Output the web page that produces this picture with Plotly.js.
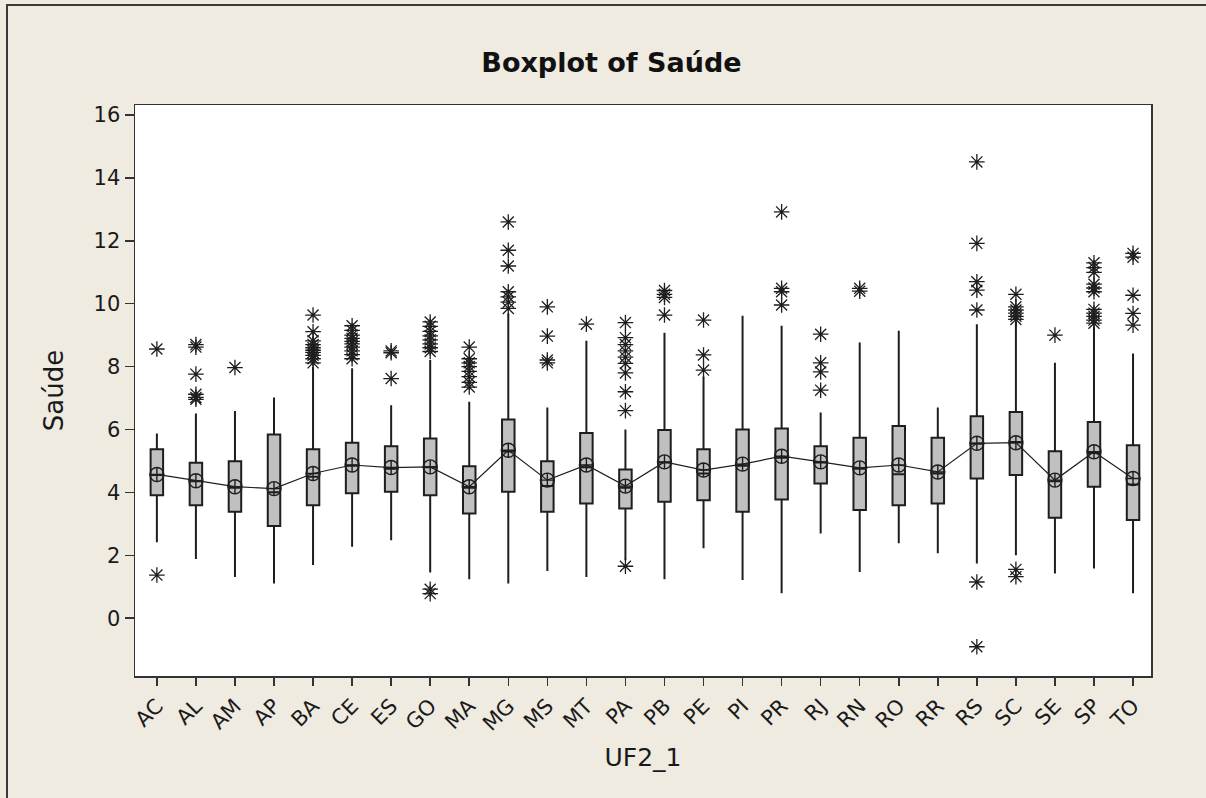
<!DOCTYPE html>
<html>
<head>
<meta charset="utf-8">
<script src="https://cdn.plot.ly/plotly-3.0.1.min.js"></script>
<style>
  html, body { margin: 0; padding: 0; background: #efebe1; }
  #chart { position: absolute; left: 0; top: 0; width: 1206px; height: 798px; }
  #frame { position: absolute; left: 6px; top: 4px; width: 1220px; height: 820px;
           border-left: 2px solid #3a3a3a; border-top: 2px solid #3a3a3a; pointer-events: none; }
</style>
</head>
<body>
<div id="chart"></div>
<div id="frame"></div>
<script>
// States (UF) on the x axis
const states = ['AC','AL','AM','AP','BA','CE','ES','GO','MA','MG','MS','MT','PA',
                'PB','PE','PI','PR','RJ','RN','RO','RR','RS','SC','SE','SP','TO'];

// Box statistics per state
const q1 = [3.91, 3.59, 3.38, 2.93, 3.59, 3.97, 4.02, 3.91, 3.33, 4.02, 3.38, 3.65, 3.49,
            3.70, 3.75, 3.38, 3.77, 4.28, 3.44, 3.59, 3.65, 4.44, 4.55, 3.19, 4.18, 3.12];
const medians = [4.55, 4.35, 4.15, 4.00, 4.50, 4.85, 4.75, 4.80, 4.15, 5.30, 4.20, 4.80, 4.15,
                 4.95, 4.60, 4.85, 5.10, 4.95, 4.75, 4.58, 4.60, 5.55, 5.60, 4.35, 5.25, 4.25];
const q3 = [5.37, 4.94, 4.99, 5.84, 5.37, 5.58, 5.47, 5.71, 4.83, 6.32, 4.99, 5.89, 4.73,
            5.98, 5.37, 6.00, 6.03, 5.47, 5.74, 6.11, 5.74, 6.42, 6.56, 5.31, 6.24, 5.50];
const whiskerLow = [2.41, 1.88, 1.31, 1.10, 1.69, 2.27, 2.48, 1.45, 1.24, 1.10, 1.50, 1.31, 1.84,
                    1.24, 2.22, 1.21, 0.79, 2.69, 1.47, 2.38, 2.06, 1.74, 2.00, 1.42, 1.58, 0.79];
const whiskerHigh = [5.87, 6.51, 6.59, 7.02, 7.99, 7.95, 6.77, 8.21, 6.88, 9.69, 6.70, 8.82, 6.00,
                     9.08, 7.68, 9.62, 9.30, 6.54, 8.77, 9.14, 6.70, 9.35, 9.42, 8.12, 9.27, 8.42];
const means = [4.57, 4.37, 4.18, 4.12, 4.60, 4.87, 4.79, 4.81, 4.18, 5.34, 4.39, 4.87, 4.20,
               4.97, 4.71, 4.90, 5.15, 4.97, 4.78, 4.87, 4.65, 5.56, 5.58, 4.39, 5.29, 4.44];

// Outlying observations per state
const outliers = [
  [8.56, 1.37],                                                    // AC
  [8.70, 8.62, 7.76, 7.12, 7.02, 6.96],                            // AL
  [7.97],                                                          // AM
  [],                                                              // AP
  [9.64, 9.11, 8.82, 8.70, 8.60, 8.52, 8.45, 8.36, 8.25, 8.12],    // BA
  [9.30, 9.15, 9.00, 8.90, 8.80, 8.72, 8.62, 8.50, 8.38, 8.25],    // CE
  [8.50, 8.44, 7.62],                                              // ES
  [9.42, 9.28, 9.12, 8.98, 8.85, 8.72, 8.60, 8.48, 0.92, 0.78],    // GO
  [8.62, 8.25, 8.12, 8.00, 7.85, 7.68, 7.50, 7.35],                // MA
  [12.60, 11.70, 11.20, 10.38, 10.22, 10.05, 9.85],                // MG
  [9.90, 8.97, 8.21, 8.12],                                        // MS
  [9.35],                                                          // MT
  [9.40, 8.92, 8.70, 8.50, 8.30, 8.10, 7.80, 7.20, 6.60, 1.65],    // PA
  [10.42, 10.30, 10.20, 9.64],                                     // PB
  [9.48, 8.37, 7.89],                                              // PE
  [],                                                              // PI
  [12.92, 10.49, 10.38, 9.96],                                     // PR
  [9.03, 8.12, 7.83, 7.25],                                        // RJ
  [10.49, 10.40],                                                  // RN
  [],                                                              // RO
  [],                                                              // RR
  [14.51, 11.92, 10.70, 10.43, 9.80, 1.15, -0.91],                 // RS
  [10.30, 9.90, 9.80, 9.70, 9.60, 9.50, 1.55, 1.32],               // SC
  [9.00],                                                          // SE
  [11.30, 11.15, 11.00, 10.62, 10.50, 10.38, 9.82, 9.70, 9.60, 9.48, 9.38], // SP
  [11.60, 11.48, 10.27, 9.69, 9.32]                                // TO
];

const outX = [], outY = [];
outliers.forEach((vals, i) => vals.forEach(v => { outX.push(states[i]); outY.push(v); }));

const ink = '#1e1e1e';

const boxes = {
  type: 'box',
  x: states,
  q1: q1,
  median: medians,
  q3: q3,
  lowerfence: whiskerLow,
  upperfence: whiskerHigh,
  boxpoints: false,
  width: 0.32,
  whiskerwidth: 0,
  fillcolor: '#c0c0c0',
  line: { color: ink, width: 2 },
  hoverinfo: 'skip',
  showlegend: false
};

const meanLine = {
  type: 'scatter',
  mode: 'lines+markers',
  x: states,
  y: means,
  line: { color: ink, width: 1.2 },
  marker: { symbol: 'circle-cross-open', size: 14, color: ink, line: { width: 1.4, color: ink } },
  showlegend: false
};

const outlierPts = {
  type: 'scatter',
  mode: 'markers',
  x: outX,
  y: outY,
  marker: { symbol: 'asterisk-open', size: 13, color: ink, line: { width: 1.3, color: ink } },
  showlegend: false
};

const tickFont = { family: 'DejaVu Sans, sans-serif', size: 21, color: '#1a1a1a' };

const layout = {
  width: 1206,
  height: 798,
  paper_bgcolor: '#efebe1',
  plot_bgcolor: '#ffffff',
  margin: { l: 135, r: 55, t: 105, b: 122 },
  title: {
    text: '<b>Boxplot of Saúde</b>',
    font: { family: 'DejaVu Sans, sans-serif', size: 27, color: '#111' },
    x: 0.507, xref: 'container', xanchor: 'center',
    y: 0.921, yref: 'container', yanchor: 'middle'
  },
  xaxis: {
    type: 'category',
    range: [-0.56, 25.46],
    tickangle: -45,
    ticks: 'outside',
    ticklen: 8,
    tickwidth: 1.5,
    tickcolor: '#333',
    tickfont: tickFont,
    showline: true,
    mirror: true,
    linecolor: '#333',
    linewidth: 1.5,
    showgrid: false,
    zeroline: false,
    title: { text: 'UF2_1', font: { family: 'DejaVu Sans, sans-serif', size: 25, color: '#1a1a1a' }, standoff: 14 }
  },
  yaxis: {
    range: [-1.84, 16.32],
    tickvals: [0, 2, 4, 6, 8, 10, 12, 14, 16],
    ticks: 'outside',
    ticklen: 9,
    tickwidth: 1.5,
    tickcolor: '#333',
    tickfont: tickFont,
    showline: true,
    mirror: true,
    linecolor: '#333',
    linewidth: 1.5,
    showgrid: false,
    zeroline: false,
    title: { text: 'Saúde', font: { family: 'DejaVu Sans, sans-serif', size: 26, color: '#1a1a1a' }, standoff: 22 }
  }
};

Plotly.newPlot('chart', [boxes, meanLine, outlierPts], layout, { displayModeBar: false, staticPlot: true });
</script>
</body>
</html>
